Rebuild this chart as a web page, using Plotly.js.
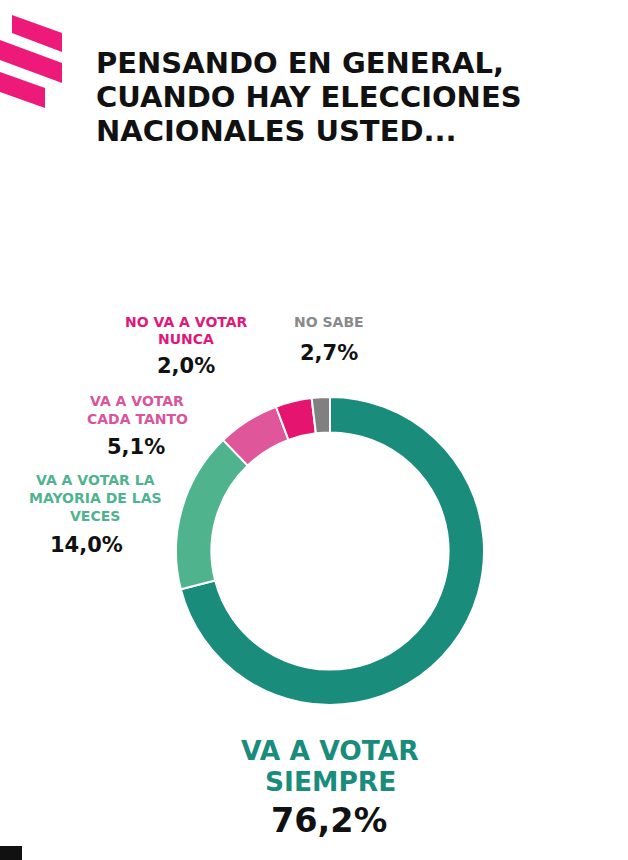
<!DOCTYPE html>
<html>
<head>
<meta charset="utf-8">
<script src="https://cdn.plot.ly/plotly-3.0.1.min.js"></script>
<style>html,body{margin:0;padding:0;background:#fff;}#chart{width:628px;height:860px;}</style>
</head>
<body>
<div id="chart"></div>
<script>
const categories = ["VA A VOTAR SIEMPRE", "VA A VOTAR LA MAYORIA DE LAS VECES", "VA A VOTAR CADA TANTO", "NO VA A VOTAR NUNCA", "NO SABE"];
const labelLines = [["VA A VOTAR", "SIEMPRE"], ["VA A VOTAR LA", "MAYORIA DE LAS", "VECES"], ["VA A VOTAR", "CADA TANTO"], ["NO VA A VOTAR", "NUNCA"], ["NO SABE"]];
// percentages printed on the chart
const values = [76.2, 14.0, 5.1, 2.0, 2.7];
// arc sizes as actually drawn in the reference ring
const sliceShares = [71.0, 16.8, 6.5, 3.8, 1.9];
const colors = ["#1a8c7b", "#4fb38e", "#e0569b", "#e5156f", "#808080"];
const labelColors = ["#1a8c7b", "#4fb38e", "#d9559a", "#e0187a", "#8a8a8a"];
const titleLines = ["PENSANDO EN GENERAL,", "CUANDO HAY ELECCIONES", "NACIONALES USTED..."];

const valueLabels = values.map(v => v.toFixed(1).replace(".", ",") + "%");

const W = 628, H = 860;
const px = x => x / W, py = y => 1 - y / H;
const FONT = "DejaVu Sans, sans-serif";

const cx = 330, cy = 551, R = 154;

// label layout: [labelX, firstLineY, lineStep, valueX, valueY]
const pos = [
  [330, 750, 31, 329, 820],
  [95, 480, 18, 86, 545],
  [137, 401, 18, 136, 447],
  [186, 322, 17, 186, 366],
  [329, 322, 17, 329, 353]
];

const annotations = [];
const titleY = [63, 97, 131];
titleLines.forEach((t, k) => annotations.push({text: t, xref: "paper", yref: "paper", x: px(94), y: py(titleY[k]),
  xanchor: "left", yanchor: "middle", align: "left", showarrow: false,
  font: {family: FONT, size: 29, color: "#111", weight: 700}}));

for (let i = 0; i < categories.length; i++) {
  const big = i === 0;
  labelLines[i].forEach((t, k) => annotations.push({text: t, xref: "paper", yref: "paper",
    x: px(pos[i][0]), y: py(pos[i][1] + k * pos[i][2]),
    xanchor: "center", yanchor: "middle", align: "center", showarrow: false,
    font: {family: FONT, size: big ? 26.5 : 14, color: labelColors[i], weight: 700}}));
  annotations.push({text: valueLabels[i], xref: "paper", yref: "paper", x: px(pos[i][3]), y: py(pos[i][4]),
    xanchor: "center", yanchor: "middle", align: "center", showarrow: false,
    font: {family: FONT, size: big ? 33.5 : 21, color: "#111", weight: 700}});
}

const logoShapes = [
  "M 12 15 L 62 33 L 62 52 L 12 33 Z",
  "M 0 40 L 62 63 L 62 83 L 0 60 Z",
  "M 0 72 L 45 88 L 45 108 L 0 92 Z"
].map(p => {
  const conv = p.replace(/(\d+(\.\d+)?) (\d+(\.\d+)?)/g, (m, a, b, c) => px(+a).toFixed(5) + "," + py(+c).toFixed(5));
  return {type: "path", xref: "paper", yref: "paper", path: conv, fillcolor: "#ee1a7a", line: {width: 0}};
});
logoShapes.push({type: "rect", xref: "paper", yref: "paper", x0: 0, x1: px(22), y0: py(860), y1: py(846), fillcolor: "#111", line: {width: 0}});

const trace = {
  type: "pie",
  labels: categories,
  values: sliceShares,
  customdata: values,
  hole: 0.77,
  sort: false,
  direction: "clockwise",
  rotation: 0,
  textinfo: "none",
  hovertemplate: "%{label}: %{customdata}%<extra></extra>",
  marker: {colors: colors, line: {color: "#ffffff", width: 2}},
  domain: {x: [px(cx - R), px(cx + R)], y: [py(cy + R), py(cy - R)]},
  showlegend: false
};

Plotly.newPlot("chart", [trace], {
  width: W, height: H,
  margin: {l: 0, r: 0, t: 0, b: 0},
  paper_bgcolor: "#ffffff",
  showlegend: false,
  annotations: annotations,
  shapes: logoShapes
}, {staticPlot: true});
</script>
</body>
</html>
